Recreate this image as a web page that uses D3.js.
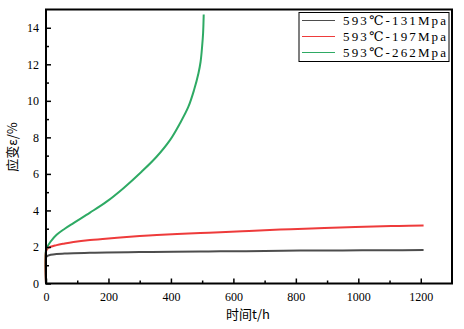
<!DOCTYPE html>
<html><head><meta charset="utf-8">
<script src="https://cdn.jsdelivr.net/npm/d3@7"></script>
<style>body{margin:0;background:#fff}svg{display:block}</style>
</head><body>
<svg id="c" width="464" height="329"></svg>
<script>
const seriesNames = ["593℃-131Mpa", "593℃-197Mpa", "593℃-262Mpa"];
const seriesColors = ["#4d4d4d", "#ee3b3b", "#2eaa64"];
const t131 = [0, 0, 2, 15, 34, 60, 88, 140, 194, 300, 408, 494, 558, 700, 814, 950, 1100, 1209];
const e131 = [0, 1.40, 1.48, 1.57, 1.62, 1.64, 1.66, 1.68, 1.70, 1.72, 1.74, 1.75, 1.76, 1.78, 1.80, 1.81, 1.82, 1.83];
const t197 = [0, 0, 7, 34, 60, 88, 141, 200, 248, 300, 355, 420, 494, 558, 650, 750, 850, 942, 1049, 1130, 1209];
const e197 = [0, 1.75, 1.94, 2.10, 2.19, 2.27, 2.38, 2.47, 2.53, 2.60, 2.66, 2.71, 2.76, 2.81, 2.88, 2.95, 3.01, 3.06, 3.12, 3.15, 3.18];
const t262 = [0, 0, 2, 15, 34, 60, 88, 141, 194, 248, 306, 354, 397, 429, 456, 474, 488, 495, 500, 503, 505];
const e262 = [0, 1.85, 1.94, 2.30, 2.67, 3.00, 3.31, 3.88, 4.48, 5.22, 6.12, 6.94, 7.85, 8.77, 9.68, 10.59, 11.50, 12.14, 13.00, 13.70, 14.73];
const xTicks = [0, 200, 400, 600, 800, 1000, 1200];
const yTicks = [0, 2, 4, 6, 8, 10, 12, 14];

const svg = d3.select("#c");
const L = 46, R = 452, T = 9.5, B = 283.5;
const x = d3.scaleLinear().domain([0, 1300]).range([L, R]);
const y = d3.scaleLinear().domain([0, 15]).range([B, T]);
const font = "'Liberation Serif','DejaVu Serif',serif";

const series = [[t131, e131], [t197, e197], [t262, e262]];
const line = d3.line().x(d => x(d[0])).y(d => y(d[1])).curve(d3.curveCatmullRom.alpha(0.5));
series.forEach((s, i) => {
  const pts = s[0].map((t, j) => [t, s[1][j]]);
  svg.append("path").datum(pts).attr("d", line)
    .attr("fill", "none").attr("stroke", seriesColors[i]).attr("stroke-width", 2);
});

// axes with inward ticks
const xAxis = svg.append("g").attr("transform", `translate(0,${B})`)
  .call(d3.axisBottom(x).tickValues(xTicks).tickSize(-5).tickPadding(9).tickFormat(d3.format("d")));
const xMinor = svg.append("g").attr("transform", `translate(0,${B})`)
  .call(d3.axisBottom(x).tickValues(d3.range(100, 1300, 200)).tickSize(-3).tickFormat(""));
const yAxis = svg.append("g").attr("transform", `translate(${L},0)`)
  .call(d3.axisLeft(y).tickValues(yTicks).tickSize(-5).tickPadding(7).tickFormat(d3.format("d")));
const yMinor = svg.append("g").attr("transform", `translate(${L},0)`)
  .call(d3.axisLeft(y).tickValues(d3.range(1, 15, 2)).tickSize(-3).tickFormat(""));
[xAxis, xMinor, yAxis, yMinor].forEach(g => {
  g.select(".domain").remove();
  g.selectAll("line").attr("stroke", "#000").attr("stroke-width", 1.5);
  g.selectAll("text").attr("font-family", font).attr("font-size", 12).attr("fill", "#000");
});

// frame
svg.append("rect").attr("x", L).attr("y", T).attr("width", R - L).attr("height", B - T)
  .attr("fill", "none").attr("stroke", "#000").attr("stroke-width", 2);

// axis titles
svg.append("text").attr("x", 248).attr("y", 319).attr("text-anchor", "middle")
  .attr("font-family", "'Noto Sans CJK SC',sans-serif").attr("font-size", 13).text("时间t/h");
svg.append("text").attr("transform", "translate(17,147) rotate(-90)").attr("text-anchor", "middle")
  .attr("font-family", "'Noto Sans CJK SC',sans-serif").attr("font-size", 13).text("应变ε/%");

// legend
const lg = svg.append("g");
lg.append("rect").attr("x", 299).attr("y", 12.5).attr("width", 150).attr("height", 49)
  .attr("fill", "#fff").attr("stroke", "#000").attr("stroke-width", 1);
seriesNames.forEach((n, i) => {
  const yy = 20.5 + i * 16;
  lg.append("line").attr("x1", 302).attr("x2", 335).attr("y1", yy).attr("y2", yy)
    .attr("stroke", seriesColors[i]).attr("stroke-width", 1);
  lg.append("text").attr("x", 343).attr("y", yy + 4.5).attr("font-family", font)
    .attr("font-size", 13).attr("fill", "#000")
    .attr("textLength", 103).attr("lengthAdjust", "spacing").text(n);
});
</script>
</body></html>
